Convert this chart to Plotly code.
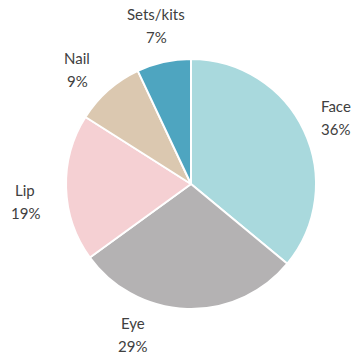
import math
import plotly.graph_objects as go

categories = ["Face", "Eye", "Lip", "Nail", "Sets/kits"]
shares = [36, 29, 19, 9, 7]
colors = ["#a9d9dd", "#b4b2b3", "#f5d0d3", "#dbc8b0", "#4ea5c0"]

# layout (pixels in the 351x356 canvas)
W, H = 351, 356
CX, CY, R = 191, 184, 125
LABEL_R = 1.28
LINE_GAP = 23
# per-label nudges (px) to mimic best-fit label placement
nudges = [(0, 2), (-53, -9), (-6, 12), (-8, 6), (0, -2)]

fig = go.Figure(go.Pie(
    labels=categories,
    values=shares,
    sort=False,
    direction="clockwise",
    rotation=0,
    marker=dict(colors=colors, line=dict(color="white", width=2)),
    textinfo="none",
    domain=dict(x=[(CX - R) / W, (CX + R) / W], y=[1 - (CY + R) / H, 1 - (CY - R) / H]),
    showlegend=False,
    hoverinfo="label+percent",
))

total = sum(shares)
cum = 0
annotations = []
for name, v, (dx, dy) in zip(categories, shares, nudges):
    mid = (cum + v / 2) / total * 2 * math.pi
    cum += v
    px = CX + LABEL_R * R * math.sin(mid) + dx
    py = CY - LABEL_R * R * math.cos(mid) + dy
    pct = f"{round(v / total * 100)}%"
    for text, off in ((name, -LINE_GAP / 2), (pct, LINE_GAP / 2)):
        annotations.append(dict(
            x=px / W, y=1 - (py + off) / H, xref="paper", yref="paper",
            text=text, showarrow=False, xanchor="center", yanchor="middle",
            font=dict(family="Lato, Open Sans, sans-serif", size=15, color="#404040"),
        ))

fig.update_layout(
    width=W, height=H,
    margin=dict(l=0, r=0, t=0, b=0),
    paper_bgcolor="white",
    plot_bgcolor="white",
    annotations=annotations,
)

fig.write_html("out.html")
